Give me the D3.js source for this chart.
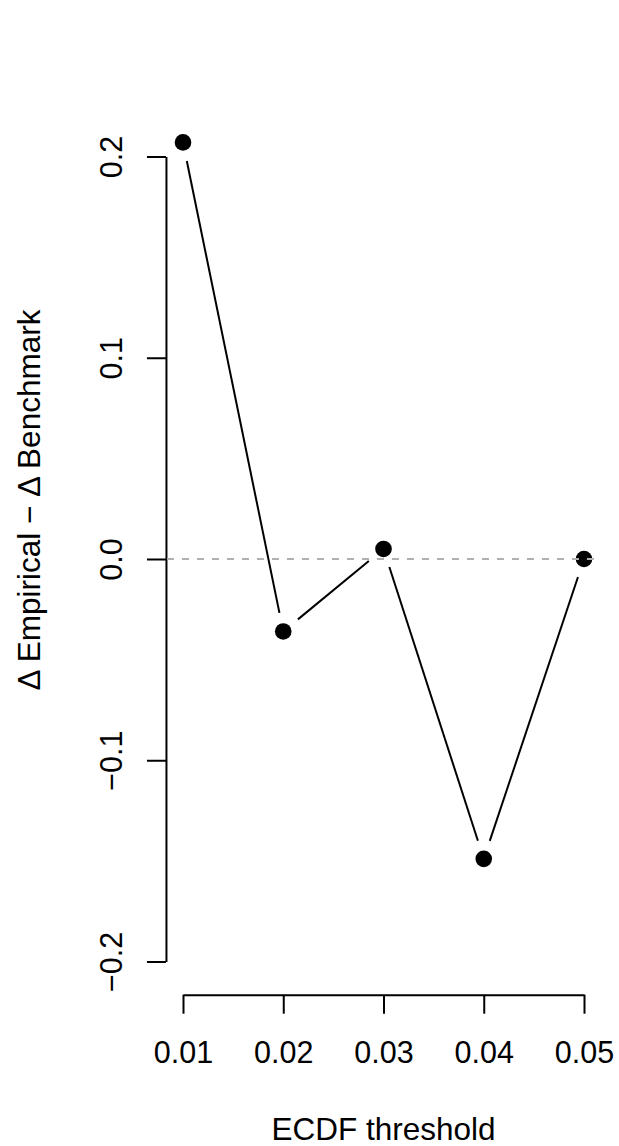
<!DOCTYPE html>
<html>
<head>
<meta charset="utf-8">
<script src="https://cdn.jsdelivr.net/npm/d3@7"></script>
<style>
  body { margin: 0; background: #fff; }
  text { font-family: "Liberation Sans", Arial, sans-serif; fill: #000; }
</style>
</head>
<body>
<script>
// data
var thresholds = [0.01, 0.02, 0.03, 0.04, 0.05];
var deltaDiff = [0.207, -0.036, 0.005, -0.149, 0.0];
var xTicks = [0.01, 0.02, 0.03, 0.04, 0.05];
var yTicks = [-0.2, -0.1, 0.0, 0.1, 0.2];
var xTickLabels = ["0.01", "0.02", "0.03", "0.04", "0.05"];
var yTickLabels = ["\u22120.2", "\u22120.1", "0.0", "0.1", "0.2"];

var w = 619, h = 1146;
var fontSize = 30.5;
var titleSize = 31.5;

var svg = d3.select("body").append("svg")
    .attr("width", w)
    .attr("height", h);

var x = d3.scaleLinear().domain([0.01, 0.05]).range([183, 584]);
var y = d3.scaleLinear().domain([-0.2, 0.2]).range([961.5, 156.5]);

// plot region (R adds 4% each side)
var xPad = 0.04 * (0.05 - 0.01);
var yPad = 0.04 * (0.2 - (-0.2));
var left = x(0.01 - xPad), right = x(0.05 + xPad);
var bottom = y(-0.2 - yPad);

// y axis
var yAxis = svg.append("g")
    .attr("transform", "translate(" + (left - 1) + ",0)")
    .call(d3.axisLeft(y).tickValues(yTicks).tickSize(19).tickSizeOuter(0)
        .tickFormat(function(d, i) { return yTickLabels[i]; }));
yAxis.select(".domain").attr("stroke", "#000").attr("stroke-width", 2);
yAxis.selectAll(".tick line").attr("stroke", "#000").attr("stroke-width", 2);
yAxis.selectAll(".tick text")
    .attr("transform", "rotate(-90)")
    .attr("x", 0)
    .attr("y", -44)
    .attr("dy", null)
    .attr("text-anchor", "middle")
    .style("font-size", fontSize + "px")
    .style("font-family", "Liberation Sans, Arial, sans-serif");

// x axis
var xAxis = svg.append("g")
    .attr("transform", "translate(0," + (bottom + 1) + ")")
    .call(d3.axisBottom(x).tickValues(xTicks).tickSize(19).tickSizeOuter(0)
        .tickFormat(function(d, i) { return xTickLabels[i]; }));
xAxis.select(".domain").attr("stroke", "#000").attr("stroke-width", 2);
xAxis.selectAll(".tick line").attr("stroke", "#000").attr("stroke-width", 2);
xAxis.selectAll(".tick text")
    .attr("y", 68)
    .attr("dy", null)
    .style("font-size", fontSize + "px")
    .style("font-family", "Liberation Sans, Arial, sans-serif");

// line segments with gaps round the points (type = "b")
var gap = 19;
var segs = [];
for (var i = 0; i < thresholds.length - 1; i++) {
    var x1 = x(thresholds[i]), y1 = y(deltaDiff[i]);
    var x2 = x(thresholds[i + 1]), y2 = y(deltaDiff[i + 1]);
    var len = Math.sqrt((x2 - x1) * (x2 - x1) + (y2 - y1) * (y2 - y1));
    var ux = (x2 - x1) / len, uy = (y2 - y1) / len;
    segs.push([x1 + ux * gap, y1 + uy * gap, x2 - ux * gap, y2 - uy * gap]);
}
svg.selectAll("line.seg")
    .data(segs)
    .enter()
    .append("line")
    .attr("class", "seg")
    .attr("x1", function(d) { return d[0]; })
    .attr("y1", function(d) { return d[1]; })
    .attr("x2", function(d) { return d[2]; })
    .attr("y2", function(d) { return d[3]; })
    .attr("stroke", "#000")
    .attr("stroke-width", 2);

svg.selectAll("circle")
    .data(thresholds)
    .enter()
    .append("circle")
    .attr("cx", function(d) { return x(d); })
    .attr("cy", function(d, i) { return y(deltaDiff[i]); })
    .attr("r", 8.3)
    .attr("fill", "#000");

// zero reference line
svg.append("line")
    .attr("x1", left)
    .attr("x2", right)
    .attr("y1", y(0))
    .attr("y2", y(0))
    .attr("stroke", "#b0b0b0")
    .attr("stroke-width", 2)
    .attr("stroke-dasharray", "7,8");

// axis titles
svg.append("text")
    .attr("x", (left + right) / 2)
    .attr("y", 1140)
    .attr("text-anchor", "middle")
    .style("font-size", titleSize + "px")
    .text("ECDF threshold");

svg.append("text")
    .attr("transform", "translate(40,500) rotate(-90)")
    .attr("text-anchor", "middle")
    .style("font-size", titleSize + "px")
    .text("\u0394 Empirical \u2212 \u0394 Benchmark");
</script>
</body>
</html>
